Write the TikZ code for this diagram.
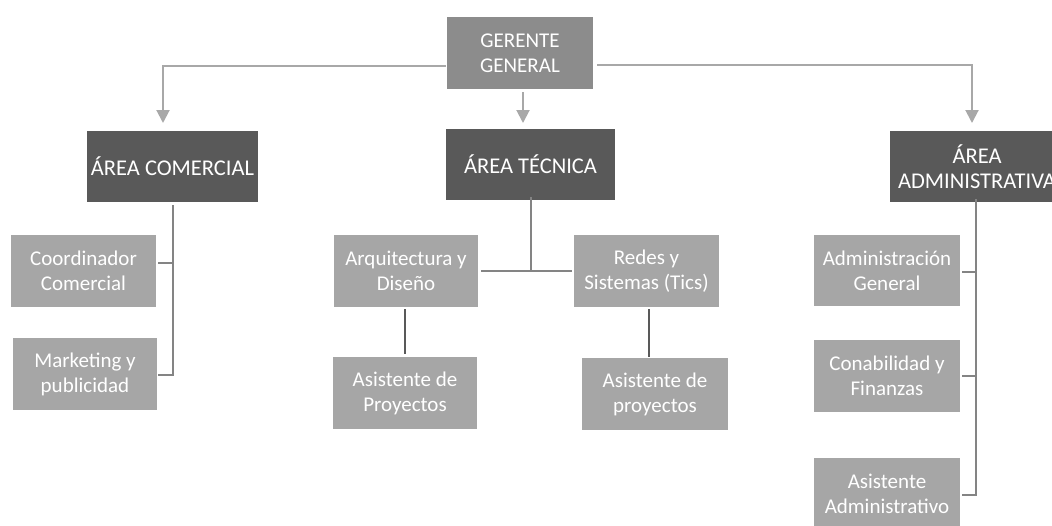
\documentclass[tikz,border=0pt]{standalone}
\usepackage{fontspec}
\setmainfont{Carlito}
\usetikzlibrary{arrows.meta}
\definecolor{boxmid}{HTML}{8C8C8C}
\definecolor{boxdark}{HTML}{595959}
\definecolor{boxlight}{HTML}{A6A6A6}
\definecolor{linelight}{HTML}{A8A8A8}
\definecolor{linemid}{HTML}{848484}
\definecolor{linedark}{HTML}{595959}
\tikzset{
  box/.style={rectangle, inner sep=0pt, align=center, text=white,
    font=\fontsize{21}{25}\selectfont},
  topbox/.style={box, fill=boxmid, minimum width=146pt, minimum height=72pt},
  areabox/.style={box, fill=boxdark, minimum height=71pt,
    font=\fontsize{22.5}{25}\selectfont},
  subbox/.style={box, fill=boxlight, minimum width=145pt, minimum height=72pt},
  arrowline/.style={draw=linelight, line width=2pt,
    -{Triangle[width=13pt,length=13pt]}},
  treeline/.style={draw=linemid, line width=2pt},
  darkline/.style={draw=linedark, line width=2pt},
}
\begin{document}
\begin{tikzpicture}[x=1pt,y=-1pt]
\useasboundingbox (0,0) rectangle (1052,525);
\clip (0,0) rectangle (1052,525);

% top
\node[topbox] (G) at (520,53) {GERENTE\\GENERAL};

% area boxes
\node[areabox, minimum width=171pt] (AC) at (172.5,166.5) {ÁREA COMERCIAL};
\node[areabox, minimum width=169pt] (AT) at (530.5,164.5) {ÁREA TÉCNICA};
\node[areabox, minimum width=174pt] (AA) at (977,166.5) {ÁREA\\ADMINISTRATIVA};

% comercial
\node[subbox] (CC) at (83.5,270.5) {Coordinador\\Comercial};
\node[subbox, minimum width=144pt] (MK) at (85,374) {Marketing y\\publicidad};

% tecnica
\node[subbox, minimum width=144pt] (AD) at (406,271) {Arquitectura y\\Diseño};
\node[subbox] (RS) at (646.5,271) {Redes y\\Sistemas (Tics)};
\node[subbox, minimum width=144pt] (AP1) at (405,393) {Asistente de\\Proyectos};
\node[subbox, minimum width=146pt] (AP2) at (655,394) {Asistente de\\proyectos};

% administrativa
\node[subbox, minimum width=146pt, minimum height=71pt] (AG) at (887,270.5) {Administración\\General};
\node[subbox, minimum width=146pt] (CF) at (887,376) {Conabilidad y\\Finanzas};
\node[subbox, minimum width=146pt] (AS) at (887,494) {Asistente\\Administrativo};

% coordinates for arrow ends and junctions
\coordinate (lt) at (163,123);
\coordinate (rt) at (972,123);
\coordinate (mt) at (523,123);
\coordinate (cjt) at (173,375);
\coordinate (tj) at (531,271);
\coordinate (ajt) at (976,495);

% top arrows
\draw[arrowline] ([xshift=-1pt]G.west |- 0,66) -| (lt);
\draw[arrowline] ([xshift=4pt]G.east |- 0,65) -| (rt);
\draw[arrowline] ([xshift=3pt]G.south |- 0,92) -- (mt);

% comercial tree
\draw[treeline] (AC.south -| cjt) ++(0,3) -- (cjt) -- ([xshift=1pt]MK.east |- cjt);
\draw[treeline] ([xshift=2pt]CC.east |- 0,263) -- (173,263);

% tecnica tree
\draw[treeline] ([yshift=3pt]AT.south -| tj) -- (tj);
\draw[treeline] ([xshift=3pt]AD.east |- tj) -- ([xshift=-2pt]RS.west |- tj);
\draw[darkline] ([yshift=-2pt]AD.south -| 405,0) -- ([yshift=3pt]AP1.north -| 405,0);
\draw[darkline] ([yshift=-2pt]RS.south -| 649,0) -- ([yshift=1pt]AP2.north -| 649,0);

% administrativa tree
\draw[treeline] ([yshift=3pt]AA.south -| ajt) -- (ajt) -- ([xshift=2pt]AS.east |- ajt);
\draw[treeline] ([xshift=2pt]AG.east |- 0,272) -- (976,272);
\draw[treeline] ([xshift=2pt]CF.east |- 0,376) -- (976,376);
\end{tikzpicture}
\end{document}
